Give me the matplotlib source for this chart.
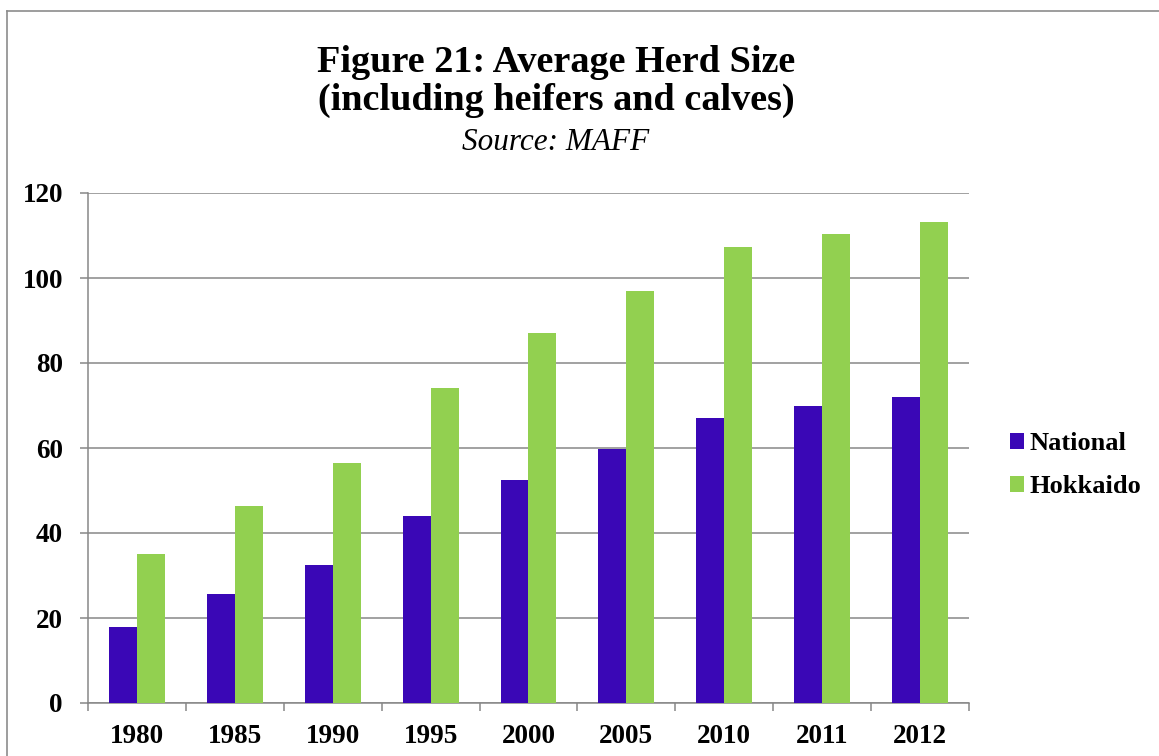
import numpy as np
import matplotlib.pyplot as plt
from matplotlib.lines import Line2D

years = ["1980", "1985", "1990", "1995", "2000", "2005", "2010", "2011", "2012"]
national = [18.0, 25.6, 32.4, 43.9, 52.5, 59.8, 67.0, 69.9, 72.1]
hokkaido = [35.0, 46.4, 56.5, 74.2, 87.0, 97.0, 107.4, 110.3, 113.1]
series_names = ["National", "Hokkaido"]
colors = ["#3A07B6", "#92D050"]

plt.rcParams["font.family"] = ["Liberation Serif", "DejaVu Serif"]
grid_c = "#878787"

fig = plt.figure(figsize=(11.59, 7.56), dpi=100)
ax = fig.add_axes([88 / 1159, 1 - 703 / 756, (969 - 88) / 1159, (703 - 193) / 756])

x = np.arange(len(years))
w = 0.285
ax.bar(x - w / 2, national, w, color=colors[0], label=series_names[0], zorder=3)
ax.bar(x + w / 2, hokkaido, w, color=colors[1], label=series_names[1], zorder=3)

ax.set_xlim(-0.5, len(years) - 0.5)
ax.set_ylim(0, 120)
ax.set_yticks(np.arange(0, 121, 20))
ax.yaxis.grid(True, color=grid_c, linewidth=1.1, zorder=0)
ax.set_axisbelow(True)

ax.set_xticks(x)
ax.set_xticklabels(years, fontsize=19.5, fontweight="bold")
ax.set_xticks(np.arange(-0.5, len(years), 1), minor=True)
ax.tick_params(axis="x", which="major", length=0, pad=15)
ax.tick_params(axis="x", which="minor", length=6, color=grid_c, width=1.1)
ax.tick_params(axis="y", length=6, color=grid_c, width=1.1, pad=12)
for lab in ax.get_yticklabels():
    lab.set_fontsize(19.5)
    lab.set_fontweight("bold")

for s in ["top", "right"]:
    ax.spines[s].set_visible(False)
for s in ["left", "bottom"]:
    ax.spines[s].set_color(grid_c)
    ax.spines[s].set_linewidth(1.1)

fig.text(556 / 1159, 1 - 62 / 756, "Figure 21: Average Herd Size", ha="center", va="center",
         fontsize=27.5, fontweight="bold")
fig.text(556 / 1159, 1 - 100 / 756, "(including heifers and calves)", ha="center", va="center",
         fontsize=27.5, fontweight="bold")
fig.text(556 / 1159, 1 - 142 / 756, "Source: MAFF", ha="center", va="center",
         fontsize=22.5, style="italic")

leg = ax.legend(loc="center left", bbox_to_anchor=(986 / 1159, 1 - 465 / 756),
                bbox_transform=fig.transFigure, frameon=False, prop={"size": 19, "weight": "bold"},
                handlelength=0.55, handleheight=0.55, handletextpad=0.2, labelspacing=0.75)

# outer chart frame (left and top edges visible)
fig.add_artist(Line2D([7 / 1159, 7 / 1159], [0, 1 - 11 / 756], transform=fig.transFigure,
                      color="#8c8c8c", linewidth=1.2))
fig.add_artist(Line2D([7 / 1159, 1], [1 - 11 / 756, 1 - 11 / 756], transform=fig.transFigure,
                      color="#8c8c8c", linewidth=1.2))

fig.savefig("out.png", dpi=100)
